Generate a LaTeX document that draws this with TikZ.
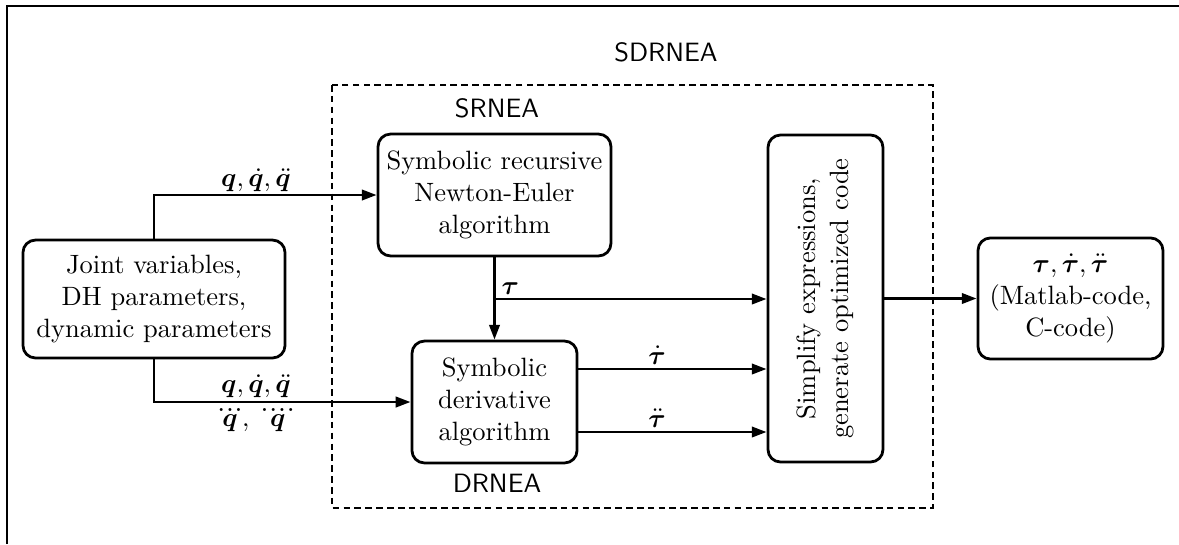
\documentclass[tikz,border=0pt]{standalone}
\usepackage{amsmath,bm}
\usetikzlibrary{arrows.meta,calc}
\newcommand{\qthree}{\overset{\raisebox{-2.2pt}{$\scriptstyle\bm{.}\mkern1.5mu\bm{.}\mkern1.5mu\bm{.}$}}{\bm{q}}}
\newcommand{\qfour}{\overset{\raisebox{-2.2pt}{$\scriptstyle\bm{.}\mkern1.5mu\bm{.}\mkern1.5mu\bm{.}\mkern1.5mu\bm{.}$}}{\bm{q}}}
\begin{document}
\begin{tikzpicture}[x=0.3774pt,y=-0.3774pt,
  box/.style={draw,line width=1.05pt,rounded corners=4.7pt,align=center,inner sep=0pt,font=\fontsize{10}{12.1}\selectfont},
  arr/.style={line width=1.05pt,-{Triangle[length=5.6pt,width=3.9pt]}},
  lbl/.style={inner sep=0pt,font=\fontsize{10}{12.1}\selectfont},
  slbl/.style={inner sep=0pt,font=\fontsize{10}{12.1}\sffamily}]
\useasboundingbox (0,0) rectangle (1179,544);
% frame
\draw[line width=0.7pt] (7,544) -- (7,6) -- (1179,6);
% dashed group
\draw[line width=0.5pt,dash pattern=on 2.5pt off 1.6pt] (332,85) rectangle (933,508);
\node[slbl] (sdr) at (666,52) {SDRNEA};
\node[slbl] (sr) at (497,108) {SRNEA};
\node[slbl] (dr) at (497,483) {DRNEA};
% boxes
\node[box,minimum width=98.9pt,minimum height=44.5pt] (joint) at (154,299)
  {Joint variables,\\DH parameters,\\dynamic parameters};
\node[box,minimum width=87.9pt,minimum height=46pt] (srnea) at (494.5,195)
  {Symbolic recursive\\Newton-Euler\\algorithm};
\node[box,minimum width=62.3pt,minimum height=46pt] (drnea) at (494.5,402)
  {Symbolic\\derivative\\algorithm};
\node[box,minimum width=43.4pt,minimum height=123.4pt] (simp) at (825.5,298.5)
  {\rotatebox{90}{\begin{tabular}{@{}c@{}}Simplify expressions,\\[0.5pt]generate optimized code\end{tabular}}};
\node[box,minimum width=69.8pt,minimum height=45.7pt] (out) at (1070.5,298.5)
  {$\bm{\tau},\dot{\bm{\tau}},\ddot{\bm{\tau}}$\\(Matlab-code,\\C-code)};
% connectors
\draw[arr] (joint.north) |- (srnea.west);
\draw[arr] (joint.south) |- (drnea.west);
\draw[arr] (srnea.south) -- (drnea.north);
\coordinate (tb) at (494.5,299);
\draw[arr] (tb) -- (tb -| simp.west);
\coordinate (d1) at ($(drnea.east)+(0,-33)$);
\coordinate (d2) at ($(drnea.east)+(0,30)$);
\draw[arr] (d1) -- (d1 -| simp.west);
\draw[arr] (d2) -- (d2 -| simp.west);
\draw[arr] (simp.east) -- (out.west);
% labels
\node[lbl] (lq1) at (256,180) {$\bm{q},\dot{\bm{q}},\ddot{\bm{q}}$};
\node[lbl] (lq2) at (256,386) {$\bm{q},\dot{\bm{q}},\ddot{\bm{q}}$};
\node[lbl] (lq3) at (256,417) {$\qthree,\;\qfour$};
\node[lbl,anchor=south west] (ltau) at (501,295) {$\bm{\tau}$};
\node[lbl] (ltd) at (657,355) {$\dot{\bm{\tau}}$};
\node[lbl] (ltdd) at (657,418) {$\ddot{\bm{\tau}}$};
\end{tikzpicture}
\end{document}
